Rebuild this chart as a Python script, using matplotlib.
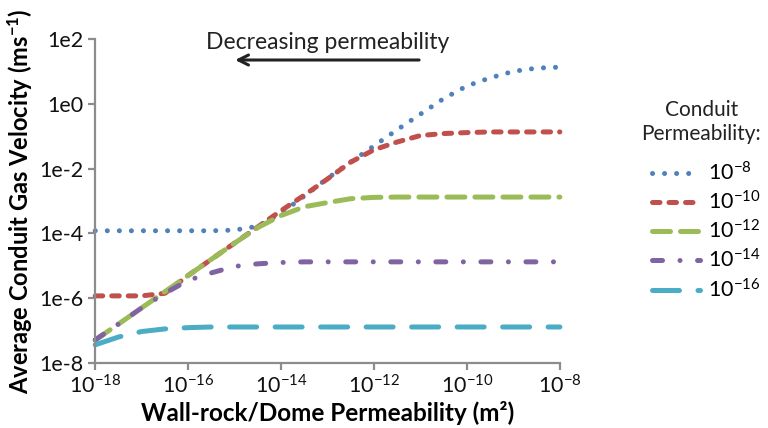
import numpy as np
import matplotlib.pyplot as plt

# wall-rock permeability (log10 m^2)
wall_log = [-18, -17.5, -17, -16.5, -16, -15.5, -15, -14.5, -14, -13.5, -13,
            -12.5, -12, -11.5, -11, -10.5, -10, -9.5, -9, -8.5, -8]

# log10 of average conduit gas velocity for each conduit permeability
v_1e8 = [-3.92, -3.92, -3.92, -3.92, -3.92, -3.92, -3.90, -3.78, -3.38, -2.85, -2.30,
         -1.80, -1.30, -0.80, -0.32, 0.16, 0.55, 0.80, 1.00, 1.10, 1.13]
v_1e10 = [-5.93, -5.93, -5.93, -5.85, -5.30, -4.80, -4.30, -3.80, -3.30, -2.82, -2.32,
          -1.80, -1.42, -1.18, -0.98, -0.92, -0.89, -0.87, -0.87, -0.87, -0.87]
v_1e12 = [-7.29, -6.80, -6.30, -5.80, -5.30, -4.80, -4.30, -3.82, -3.45, -3.18, -3.05,
          -2.93, -2.89, -2.88, -2.88, -2.88, -2.88, -2.88, -2.88, -2.88, -2.88]
v_1e14 = [-7.29, -6.80, -6.30, -5.85, -5.45, -5.22, -5.02, -4.94, -4.90, -4.88, -4.88,
          -4.88, -4.88, -4.88, -4.88, -4.88, -4.88, -4.88, -4.88, -4.88, -4.88]
v_1e16 = [-7.44, -7.20, -7.03, -6.95, -6.91, -6.89, -6.89, -6.89, -6.89, -6.89, -6.89,
          -6.89, -6.89, -6.89, -6.89, -6.89, -6.89, -6.89, -6.89, -6.89, -6.89]

labels = ['-8', '-10', '-12', '-14', '-16']
colors = ['#4F81BD', '#C0504D', '#9BBB59', '#8064A2', '#4BACC6']
styles = [(0, (0.01, 2.4)), (0, (1.5, 1.8)), (0, (3.6, 2.0)),
          (0, (2.0, 3.5, 0.01, 3.5)), (0, (5.4, 3.7))]

plt.rcParams['font.family'] = ['Lato', 'DejaVu Sans']
plt.rcParams['mathtext.default'] = 'regular'

fig = plt.figure(figsize=(7.68, 4.28), dpi=100)
ax = fig.add_axes([0.124, 0.152, 0.605, 0.757])

x = 10.0 ** np.array(wall_log)
series = [v_1e8, v_1e10, v_1e12, v_1e14, v_1e16]
for s, lab, c, ls in zip(series, labels, colors, styles):
    ax.plot(x, 10.0 ** np.array(s), color=c, lw=3.6, linestyle=ls,
            dash_capstyle='round', solid_capstyle='round',
            label=r'$10^{' + lab + '}$', clip_on=False)

ax.set_xscale('log')
ax.set_yscale('log')
ax.set_xlim(1e-18, 1e-8)
ax.set_ylim(1e-8, 1e2)
ax.set_xticks([10.0 ** e for e in range(-18, -7, 2)])
ax.set_xticklabels([r'$10^{' + str(e) + '}$' for e in range(-18, -7, 2)])
ax.set_yticks([10.0 ** e for e in range(-8, 3, 2)])
ax.set_yticklabels(['1e' + str(e) for e in range(-8, 3, 2)])
ax.minorticks_off()

for sp in ['top', 'right']:
    ax.spines[sp].set_visible(False)
for sp in ['left', 'bottom']:
    ax.spines[sp].set_color('#8c8c8c')
    ax.spines[sp].set_linewidth(1.6)
ax.tick_params(colors='#8c8c8c', width=1.6, length=5, labelcolor='#111111',
               labelsize=15.5)
ax.tick_params(axis='x', pad=3)

ax.set_xlabel('Wall-rock/Dome Permeability (m²)', fontsize=17.5, fontweight='bold',
              labelpad=3)
ax.set_ylabel(r'Average Conduit Gas Velocity (ms$^{-1}$)', fontsize=17,
              fontweight='bold', labelpad=3)

# arrow + caption
ax.annotate('', xy=(10 ** -15.05, 10 ** 1.35), xytext=(10 ** -10.97, 10 ** 1.35),
            arrowprops=dict(arrowstyle='->', color='#222222', lw=2.2,
                            mutation_scale=18))
ax.text(10 ** -13.0, 10 ** 1.9, 'Decreasing permeability', fontsize=16.5,
        ha='center', va='center', color='#222222')

leg = fig.legend(loc='center left', bbox_to_anchor=(0.824, 0.46), frameon=False,
                 fontsize=15.5, handlelength=2.2, labelspacing=0.28,
                 handletextpad=0.4)
fig.text(0.913, 0.715, 'Conduit\nPermeability:', fontsize=15, ha='center',
         va='center', multialignment='center', linespacing=1.3, color='#222222')

fig.savefig('out.png', dpi=100)
